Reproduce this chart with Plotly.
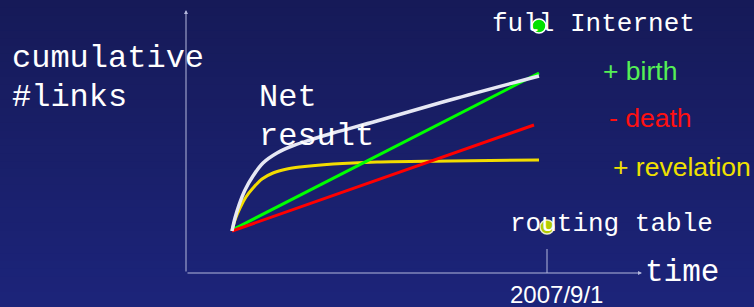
import plotly.graph_objects as go

# ---- data (x = time, y = cumulative #links; arbitrary units) ----
white_x = [46, 49, 53, 59, 67, 77, 91, 106, 124, 147, 191, 264, 353]
white_y = [42, 55, 68, 83, 97, 110, 120, 127, 133, 140, 152, 173, 197]
yellow_x = [46, 49, 54, 60, 67, 76, 87, 101, 114, 147, 191, 264, 353]
yellow_y = [42, 53, 65, 76, 85, 94, 100, 104, 106, 109, 111, 112, 113]
green_x = [46, 353]
green_y = [43, 200]
red_x = [46, 348]
red_y = [42, 148]
full_internet = (353, 247)
routing_table = (361, 46)
tick_x = 361
tick_label = "2007/9/1"

W, H = 754, 307
fig = go.Figure()

# background gradient
top = (22, 26, 88)
bot = (28, 36, 122)
n = 40
shapes = []
for i in range(n):
    t = i / (n - 1)
    c = tuple(round(top[k] + (bot[k] - top[k]) * t) for k in range(3))
    shapes.append(dict(type="rect", xref="paper", yref="paper",
                       x0=0, x1=1, y0=1 - (i + 1) / n - 0.002, y1=1 - i / n,
                       fillcolor="rgb(%d,%d,%d)" % c, line_width=0, layer="below"))

axis_col = "#b4b8dc"
# tick mark
shapes.append(dict(type="line", xref="x", yref="y", x0=tick_x, x1=tick_x, y0=0, y1=24,
                   line=dict(color=axis_col, width=1)))

fig.add_trace(go.Scatter(x=yellow_x, y=yellow_y, mode="lines", line=dict(color="#f2dc00", width=3, shape="spline"), hoverinfo="skip"))
fig.add_trace(go.Scatter(x=green_x, y=green_y, mode="lines", line=dict(color="#00ff00", width=3), hoverinfo="skip"))
fig.add_trace(go.Scatter(x=red_x, y=red_y, mode="lines", line=dict(color="#ff0000", width=3), hoverinfo="skip"))
fig.add_trace(go.Scatter(x=white_x, y=white_y, mode="lines", line=dict(color="#e6e8f4", width=3.5, shape="spline"), hoverinfo="skip"))
fig.add_trace(go.Scatter(x=[full_internet[0]], y=[full_internet[1]], mode="markers",
                         marker=dict(size=14, color="#00e000", line=dict(color="#ffffff", width=1.5)), hoverinfo="skip"))
fig.add_trace(go.Scatter(x=[routing_table[0]], y=[routing_table[1]], mode="markers",
                         marker=dict(size=14, color="#b4cc00", line=dict(color="#e8eecc", width=1.5)), hoverinfo="skip"))

mono = "Liberation Mono"
sans = "Liberation Sans"
anns = []
def txt(x, y, s, size, color="#ffffff", family=mono):
    anns.append(dict(x=x, y=y, xref="x", yref="y", text=s, showarrow=False,
                     xanchor="left", yanchor="middle",
                     font=dict(family=family, size=size, color=color)))

txt(-176, 215, "cumulative", 32)
txt(-176, 176, "#links", 32)
txt(71, 176, "Net", 32)
txt(71, 137, "result", 32)
txt(304, 249, "full Internet", 26)
txt(322, 49, "routing table", 26)
txt(457, 1, "time", 31)
txt(415, 202, "+ birth", 26.5, "#55f055", sans)
txt(421, 155, "- death", 26.5, "#ff1010", sans)
txt(425, 106, "+ revelation", 26.5, "#f0e000", sans)
anns.append(dict(x=tick_x + 9, y=-21, xref="x", yref="y", text=tick_label, showarrow=False,
                 xanchor="center", yanchor="middle",
                 font=dict(family=sans, size=24, color="#ffffff")))
# axes with arrows
anns.append(dict(x=0, y=263, ax=0, ay=0, xref="x", yref="y", axref="x", ayref="y", text="",
                 showarrow=True, arrowhead=2, arrowsize=0.8, arrowwidth=1, arrowcolor=axis_col))
anns.append(dict(x=456, y=0, ax=0, ay=0, xref="x", yref="y", axref="x", ayref="y", text="",
                 showarrow=True, arrowhead=2, arrowsize=0.8, arrowwidth=1, arrowcolor=axis_col))

fig.update_layout(
    width=W, height=H, margin=dict(l=0, r=0, t=0, b=0),
    paper_bgcolor="#1a2070", plot_bgcolor="rgba(0,0,0,0)",
    showlegend=False, shapes=shapes, annotations=anns,
    xaxis=dict(range=[-186, 568], visible=False, fixedrange=True),
    yaxis=dict(range=[-34, 273], visible=False, fixedrange=True),
)
fig.write_html("out.html", config={"displayModeBar": False},
               post_script="document.body.style.margin='0';document.body.style.overflow='hidden';")
